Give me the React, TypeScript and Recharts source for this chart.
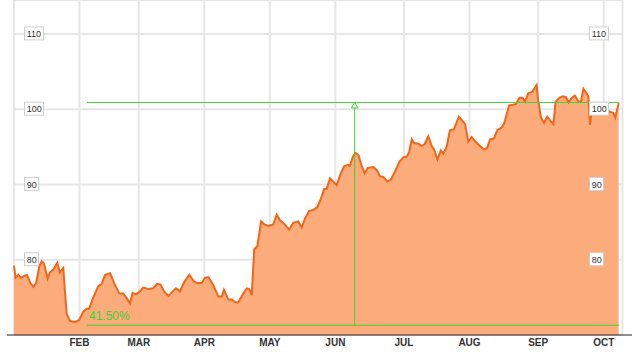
import React from "react";
import {
  AreaChart, Area, XAxis, YAxis, CartesianGrid, ReferenceLine, ReferenceDot,
} from "recharts";

// ── Data ───────────────────────────────────────────────────────────────

const monthLabels = ["FEB", "MAR", "APR", "MAY", "JUN", "JUL", "AUG", "SEP", "OCT"];
const monthStartDays = [21, 40, 61, 82, 103, 125, 146, 168, 189];
const priceTicks = [80, 90, 100, 110];

// trading-day index since the start of the window
const tradingDays = [
  0, 0.5, 1.4, 2.1, 3.0, 4.1, 5.4, 6.2, 7.1, 8.1, 8.9, 9.6, 10.8, 11.5, 12.6, 13.9, 14.7, 15.8, 16.3, 16.9,
  17.9, 19.6, 20.9, 22.2, 23.3, 24.1, 25.4, 27.0, 28.1, 29.2, 30.8, 32.4, 33.8, 35.0, 36.1, 37.2, 38.0, 39.1, 40.4, 41.4,
  43.0, 44.6, 45.9, 47.0, 48.1, 49.5, 50.9, 51.9, 53.2, 54.5, 56.2, 57.5, 58.6, 60.2, 61.2, 62.3, 63.9, 65.5, 66.6, 67.3,
  68.7, 69.8, 70.8, 71.7, 72.4, 73.5, 74.6, 75.4, 76.2, 77.0, 78.0, 79.2, 80.2, 81.5, 83.1, 84.2, 85.3, 86.5, 88.2, 89.5,
  91.1, 92.2, 93.3, 94.6, 95.9, 97.2, 98.3, 99.4, 100.2, 101.3, 102.3, 103.4, 104.7, 105.8, 107.0, 107.7, 108.6, 109.4, 110.4, 111.4,
  112.4, 113.4, 115.2, 116.3, 117.3, 118.4, 119.6, 120.7, 122.1, 123.5, 124.8, 125.9, 126.7, 127.5, 128.2, 129.6, 130.7, 131.7, 132.8, 133.9,
  134.7, 135.7, 136.8, 137.6, 138.7, 139.7, 141.0, 142.6, 144.0, 144.6, 145.6, 146.7, 148.1, 149.4, 150.7, 151.7, 152.6, 153.8, 154.9, 156.1,
  157.1, 158.7, 160.0, 160.9, 162.0, 163.0, 163.8, 164.8, 166.1, 167.5, 168.0, 168.9, 169.9, 170.9, 171.8, 172.9, 173.6, 174.8, 175.9, 176.9,
  177.8, 178.7, 179.8, 180.9, 181.7, 182.5, 183.3, 184.1, 184.6, 185.2, 186.9, 188.8, 190.8, 192.1, 192.7, 193.8,
];

const closePrices = [
  79.2, 77.6, 78.0, 77.6, 77.8, 78.0, 76.8, 76.4, 76.9, 79.1, 79.8, 79.5, 77.5, 78.3, 78.7, 79.6, 78.3, 78.9, 76.0, 72.8,
  71.9, 71.7, 72.0, 73.1, 73.5, 73.5, 75.0, 76.5, 76.8, 78.0, 78.2, 76.6, 75.5, 75.5, 74.9, 74.2, 75.6, 75.4, 75.8, 76.3,
  76.1, 76.2, 76.8, 76.7, 75.8, 75.2, 75.8, 76.2, 75.8, 77.0, 78.0, 77.2, 76.9, 76.9, 77.6, 77.7, 76.6, 75.1, 75.1, 76.0,
  74.7, 74.7, 74.4, 74.3, 74.7, 75.5, 76.2, 76.1, 75.3, 81.4, 81.8, 85.1, 84.7, 84.5, 84.7, 86.0, 85.2, 84.8, 84.0, 84.9,
  85.1, 84.3, 85.5, 86.5, 86.6, 87.0, 88.0, 89.4, 89.4, 90.8, 90.4, 89.9, 91.4, 92.4, 92.6, 92.5, 93.7, 94.2, 93.9, 92.5,
  91.5, 92.2, 92.3, 91.9, 91.1, 91.0, 90.4, 90.6, 91.7, 93.0, 93.6, 93.7, 94.4, 96.0, 95.5, 95.4, 95.1, 95.4, 96.4, 95.1,
  94.6, 93.3, 94.5, 94.1, 95.0, 97.2, 97.3, 99.0, 98.3, 98.0, 95.7, 96.3, 95.6, 95.1, 94.6, 94.9, 96.0, 96.1, 97.2, 97.5,
  98.1, 100.5, 100.6, 100.7, 101.5, 101.5, 101.0, 102.1, 102.3, 103.2, 101.2, 98.9, 98.2, 99.0, 98.5, 98.0, 101.0, 101.5, 101.7, 101.6,
  100.9, 101.5, 101.8, 101.0, 101.0, 102.7, 102.2, 101.7, 97.9, 99.9, 99.8, 99.8, 99.7, 99.5, 98.9, 100.8,
];

// low-to-high range annotation
const rangeLow = 71.3;
const rangeHigh = 100.89;
const rangeStartDay = 23.4;
const rangeEndDay = 194;
const rangeMarkerDay = 109.2;

// ── Styling ────────────────────────────────────────────────────────────

const FONT = "'Liberation Sans', Arial, sans-serif";
const LINE = "#f0661a";
const FILL = "#fcab7a";
const GREEN = "#45cf36";
const GRID = "#e6e6e6";

function PriceTick({ y, payload, side }: { y?: number; payload?: { value: number }; side: "left" | "right" }) {
  if (y === undefined || !payload) return null;
  const label = String(payload.value);
  const w = label.length * 5 + 4;
  const left = side === "left" ? 24.5 : 589.5;
  return (
    <g>
      <rect x={left} y={y - 7} width={w} height={13} fill="#fff" stroke="#cfcfcf" strokeWidth={1} />
      <text x={left + 2.2} y={y + 3.3} fontSize={9} fill="#333" fontFamily={FONT}>{label}</text>
    </g>
  );
}

function ArrowHead({ cx, cy }: { cx?: number; cy?: number }) {
  if (cx === undefined || cy === undefined) return null;
  return (
    <polygon
      points={`${cx},${cy} ${cx - 3.3},${cy + 5.5} ${cx + 3.3},${cy + 5.5}`}
      fill="#fff"
      stroke={GREEN}
      strokeWidth={1}
    />
  );
}

function RangeLabel({ cx, cy, text }: { cx?: number; cy?: number; text: string }) {
  if (cx === undefined || cy === undefined) return null;
  return (
    <text x={cx + 2} y={cy - 5.5} fontSize={12} fill={GREEN} fontFamily={FONT}>{text}</text>
  );
}

export default function App() {
  const chartData = tradingDays.map((day, i) => ({ day, price: closePrices[i] }));
  const pct = `${((rangeHigh / rangeLow - 1) * 100).toFixed(2)}%`;

  return (
    <div style={{ position: "absolute", left: 0, top: 0, width: 632, height: 355, background: "#fff", fontFamily: FONT }}>
      <AreaChart width={632} height={355} data={chartData} margin={{ top: 0, right: 9.6, bottom: 0, left: 14 }}>
        <CartesianGrid yAxisId="l" stroke={GRID} strokeWidth={2} />
        <XAxis
          dataKey="day"
          type="number"
          domain={[0, 195]}
          ticks={monthStartDays}
          interval={0}
          tickFormatter={(d: number) => monthLabels[monthStartDays.indexOf(d)] ?? ""}
          axisLine={false}
          tickLine={false}
          tickSize={0}
          tickMargin={4}
          height={20}
          tick={{ fill: "#333", fontSize: 10, fontWeight: "bold", fontFamily: FONT }}
        />
        <YAxis
          yAxisId="l"
          orientation="left"
          mirror
          domain={[70, 114.5]}
          allowDataOverflow
          ticks={priceTicks}
          axisLine={false}
          tickLine={false}
          tick={<PriceTick side="left" />}
        />
        <YAxis
          yAxisId="r"
          orientation="right"
          mirror
          domain={[70, 114.5]}
          allowDataOverflow
          ticks={priceTicks}
          axisLine={false}
          tickLine={false}
          tick={<PriceTick side="right" />}
        />
        <Area
          yAxisId="l"
          type="linear"
          dataKey="price"
          stroke={LINE}
          strokeWidth={2}
          fill={FILL}
          fillOpacity={1}
          dot={false}
          activeDot={false}
          isAnimationActive={false}
        />
        <ReferenceLine
          yAxisId="l"
          segment={[{ x: -2.25, y: 70 }, { x: 198.1, y: 70 }]}
          ifOverflow="visible"
          stroke="#222"
          strokeWidth={1}
        />
        <ReferenceLine
          yAxisId="l"
          segment={[{ x: rangeStartDay, y: rangeHigh }, { x: rangeEndDay, y: rangeHigh }]}
          stroke={GREEN}
          strokeWidth={1}
        />
        <ReferenceLine
          yAxisId="l"
          segment={[{ x: rangeStartDay, y: rangeLow }, { x: rangeEndDay, y: rangeLow }]}
          stroke={GREEN}
          strokeWidth={1}
        />
        <ReferenceLine
          yAxisId="l"
          segment={[{ x: rangeMarkerDay, y: rangeLow }, { x: rangeMarkerDay, y: rangeHigh }]}
          stroke={GREEN}
          strokeWidth={1}
        />
        <ReferenceDot yAxisId="l" x={rangeMarkerDay} y={rangeHigh} shape={(p: any) => <ArrowHead cx={p.cx} cy={p.cy} />} />
        <ReferenceDot yAxisId="l" x={rangeStartDay} y={rangeLow} shape={(p: any) => <RangeLabel cx={p.cx} cy={p.cy} text={pct} />} />
      </AreaChart>
    </div>
  );
}
